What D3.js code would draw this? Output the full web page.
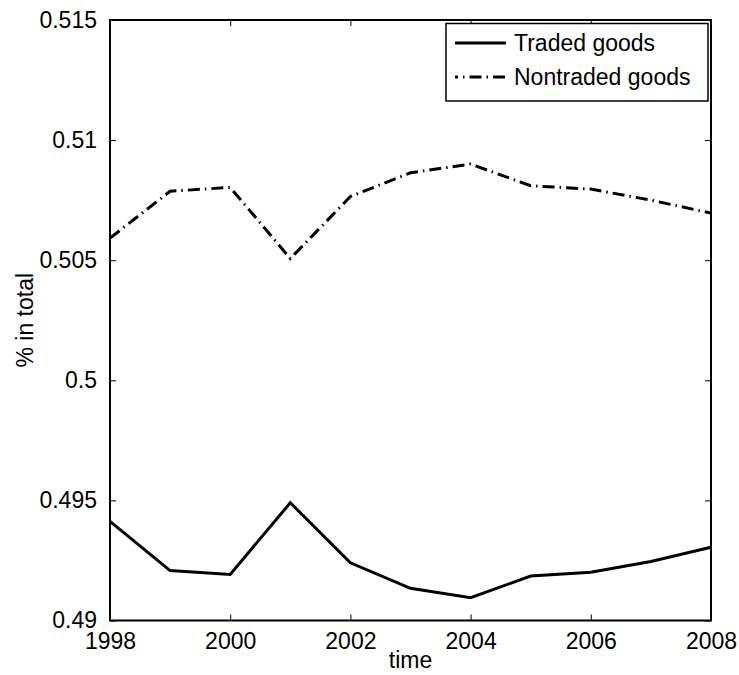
<!DOCTYPE html>
<html><head><meta charset="utf-8">
<script src="https://cdn.jsdelivr.net/npm/d3@7"></script>
<style>body{margin:0;background:#fff}svg text{font-family:"Liberation Sans",Arial,sans-serif;fill:#000}</style>
</head><body><svg id="c" width="739" height="675"></svg>
<script>
const years = [1998,1999,2000,2001,2002,2003,2004,2005,2006,2007,2008];
const traded = [0.49413,0.49208,0.49192,0.4949,0.4924,0.49134,0.49095,0.49185,0.49201,0.49246,0.49305];
const nontraded = [0.50592,0.50787,0.50803,0.50507,0.50765,0.50864,0.509,0.5081,0.50796,0.5075,0.50696];
const xTicks = [1998,2000,2002,2004,2006,2008];
const yTicks = [0.49,0.495,0.5,0.505,0.51,0.515];
const yTickLabels = ["0.49","0.495","0.5","0.505","0.51","0.515"];
const seriesNames = ["Traded goods","Nontraded goods"];

const svg = d3.select("#c");
const L=110,R=711,T=20,B=620.5;
const x = d3.scaleLinear().domain([1998,2008]).range([L,R]);
const y = d3.scaleLinear().domain([0.49,0.515]).range([B,T]);
const fs = 23;

// axes
const gx = svg.append("g").attr("transform",`translate(0,${B})`)
  .call(d3.axisBottom(x).tickValues(xTicks).tickFormat(d3.format("d")).tickSizeInner(-6).tickSizeOuter(0).tickPadding(12));
const gxt = svg.append("g").attr("transform",`translate(0,${T})`)
  .call(d3.axisTop(x).tickValues(xTicks).tickFormat("").tickSizeInner(-6).tickSizeOuter(0));
const gy = svg.append("g").attr("transform",`translate(${L},0)`)
  .call(d3.axisLeft(y).tickValues(yTicks).tickFormat((d,i)=>yTickLabels[i]).tickSizeInner(-6).tickSizeOuter(0).tickPadding(13));
const gyr = svg.append("g").attr("transform",`translate(${R},0)`)
  .call(d3.axisRight(y).tickValues(yTicks).tickFormat("").tickSizeInner(-6).tickSizeOuter(0));
[gx,gxt,gy,gyr].forEach(g=>{
  g.select(".domain").remove();
  g.selectAll(".tick line").attr("stroke","#000").attr("stroke-width",1);
  g.selectAll("text").attr("font-size",fs).attr("font-family","Liberation Sans, Arial, sans-serif");
});
gx.selectAll("text").attr("dy","0.71em");
svg.append("rect").attr("x",L).attr("y",T).attr("width",R-L).attr("height",B-T)
  .attr("fill","none").attr("stroke","#000").attr("stroke-width",2);

// lines
const line = d3.line().x((d,i)=>x(years[i])).y(d=>y(d));
svg.append("path").datum(traded).attr("d",line).attr("fill","none").attr("stroke","#000").attr("stroke-width",3).attr("stroke-linejoin","miter");
svg.append("path").datum(nontraded).attr("d",line).attr("fill","none").attr("stroke","#000").attr("stroke-width",3).attr("stroke-dasharray","12,5,1.5,5");

// labels
svg.append("text").attr("x",(L+R)/2).attr("y",668).attr("text-anchor","middle").attr("font-size",fs).text("time");
svg.append("text").attr("transform",`translate(33,${(T+B)/2}) rotate(-90)`).attr("text-anchor","middle").attr("font-size",fs).text("% in total");

// legend
const lg = svg.append("g");
lg.append("rect").attr("x",446).attr("y",23.5).attr("width",262).attr("height",77.5).attr("fill","#fff").attr("stroke","#000").attr("stroke-width",1.5);
const dashes = [null,"12,5,1.5,5"];
seriesNames.forEach((n,i)=>{
  const cy = 43 + i*34;
  lg.append("line").attr("x1",455).attr("x2",506).attr("y1",cy).attr("y2",cy).attr("stroke","#000").attr("stroke-width",3)
    .attr("stroke-dasharray",dashes[i]).attr("stroke-dashoffset",i?9:0);
  lg.append("text").attr("x",514).attr("y",cy).attr("dy","0.35em").attr("font-size",fs).text(n);
});
</script></body></html>
